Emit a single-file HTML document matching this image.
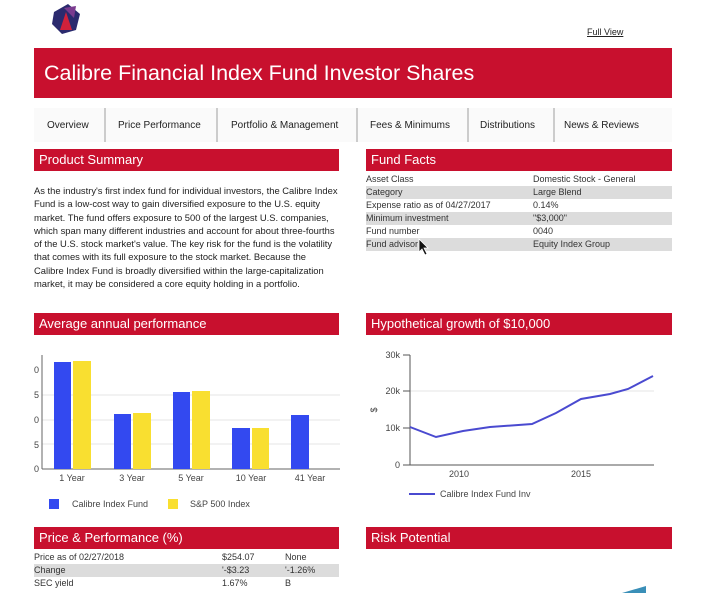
<!DOCTYPE html><html><head><style>
body{margin:0;width:707px;height:593px;overflow:hidden;background:#fff;font-family:"Liberation Sans",sans-serif;position:relative}
.a{position:absolute}
.red{background:#c8102e;color:#fff}
.h{position:absolute;height:22px;line-height:22px;font-size:13px;padding-left:5px;box-sizing:border-box}
.row{position:absolute;font-size:9px;height:13px;line-height:13px;color:#333}
.g{background:#dcdcdc}
.nav span{position:absolute;top:12px;font-size:10px;color:#222}
.sep{position:absolute;top:0;width:2px;height:34px;background:#ccc}
</style></head><body>
<svg class="a" style="left:50px;top:2px" width="32" height="34" viewBox="0 0 32 34"><polygon points="4,10 18,2 30,12 26,28 12,32 2,22" fill="#2b2a6e"/><polygon points="10,28 16,10 22,28" fill="#d0213b"/><polygon points="14,6 26,4 24,16" fill="#7a3b8f"/></svg>
<div class="a" style="left:587px;top:27px;font-size:9px;text-decoration:underline;color:#222">Full View</div>
<div class="a red" style="left:34px;top:48px;width:638px;height:50px;font-size:21.5px;line-height:50px;padding-left:10px;box-sizing:border-box">Calibre Financial Index Fund Investor Shares</div>
<div class="a nav" style="left:34px;top:108px;width:638px;height:34px;background:#fafafa">
<span style="left:13px">Overview</span><div class="sep" style="left:70px"></div>
<span style="left:84px">Price Performance</span><div class="sep" style="left:182px"></div>
<span style="left:197px">Portfolio &amp; Management</span><div class="sep" style="left:322px"></div>
<span style="left:336px">Fees &amp; Minimums</span><div class="sep" style="left:433px"></div>
<span style="left:446px">Distributions</span><div class="sep" style="left:519px"></div>
<span style="left:530px">News &amp; Reviews</span></div>
<div class="h red" style="left:34px;top:149px;width:305px">Product Summary</div>
<div class="h red" style="left:366px;top:149px;width:306px">Fund Facts</div>
<div class="a" style="left:34px;top:184px;width:304px;font-size:9.4px;line-height:13.3px;color:#222">As the industry's first index fund for individual investors, the Calibre Index Fund is a low-cost way to gain diversified exposure to the U.S. equity market. The fund offers exposure to 500 of the largest U.S. companies, which span many different industries and account for about three-fourths of the U.S. stock market's value. The key risk for the fund is the volatility that comes with its full exposure to the stock market. Because the Calibre Index Fund is broadly diversified within the large-capitalization market, it may be considered a core equity holding in a portfolio.</div>
<div class="row" style="left:366px;top:173px;width:306px"><span style="position:absolute;left:0">Asset Class</span><span style="position:absolute;left:167px">Domestic Stock - General</span></div>
<div class="row g" style="left:366px;top:186px;width:306px"><span style="position:absolute;left:0">Category</span><span style="position:absolute;left:167px">Large Blend</span></div>
<div class="row" style="left:366px;top:199px;width:306px"><span style="position:absolute;left:0">Expense ratio as of 04/27/2017</span><span style="position:absolute;left:167px">0.14%</span></div>
<div class="row g" style="left:366px;top:212px;width:306px"><span style="position:absolute;left:0">Minimum investment</span><span style="position:absolute;left:167px">"$3,000"</span></div>
<div class="row" style="left:366px;top:225px;width:306px"><span style="position:absolute;left:0">Fund number</span><span style="position:absolute;left:167px">0040</span></div>
<div class="row g" style="left:366px;top:238px;width:306px"><span style="position:absolute;left:0">Fund advisor</span><span style="position:absolute;left:167px">Equity Index Group</span></div>
<svg class="a" style="left:418px;top:238px" width="12" height="18"><polygon points="1,1 1,14 4,11 7,17 9,16 6,10 10,10" fill="#111" stroke="#fff" stroke-width="0.8"/></svg>
<div class="h red" style="left:34px;top:313px;width:305px">Average annual performance</div>
<div class="h red" style="left:366px;top:313px;width:306px">Hypothetical growth of $10,000</div>
<svg class="a" style="left:0;top:340px" width="360" height="180" font-family="Liberation Sans" font-size="9" fill="#444">
<g stroke="#e6e6e6"><line x1="42" y1="55" x2="340" y2="55"/><line x1="42" y1="80" x2="340" y2="80"/><line x1="42" y1="104" x2="340" y2="104"/></g>
<line x1="42" y1="15" x2="42" y2="129" stroke="#666"/><line x1="42" y1="129" x2="340" y2="129" stroke="#666"/>
<text x="34" y="33">0</text><text x="34" y="58">5</text><text x="34" y="83">0</text><text x="34" y="108">5</text><text x="34" y="132">0</text>
<g fill="#3349f0"><rect x="54" y="22" width="17" height="107"/><rect x="114" y="74" width="17" height="55"/><rect x="173" y="52" width="17" height="77"/><rect x="232" y="88" width="18" height="41"/><rect x="291" y="75" width="18" height="54"/></g>
<g fill="#f9df30"><rect x="73" y="21" width="18" height="108"/><rect x="133" y="73" width="18" height="56"/><rect x="192" y="51" width="18" height="78"/><rect x="252" y="88" width="17" height="41"/></g>
<g text-anchor="middle"><text x="72" y="141">1 Year</text><text x="132" y="141">3 Year</text><text x="191" y="141">5 Year</text><text x="251" y="141">10 Year</text><text x="310" y="141">41 Year</text></g>
<rect x="49" y="159" width="10" height="10" fill="#3349f0"/><text x="72" y="167">Calibre Index Fund</text>
<rect x="168" y="159" width="10" height="10" fill="#f9df30"/><text x="190" y="167">S&amp;P 500 Index</text>
</svg>
<svg class="a" style="left:360px;top:340px" width="330" height="180" font-family="Liberation Sans" font-size="9" fill="#444">
<line x1="50" y1="51" x2="294" y2="51" stroke="#e6e6e6"/>
<line x1="50" y1="15" x2="50" y2="125" stroke="#555"/><line x1="50" y1="125" x2="294" y2="125" stroke="#555"/>
<g stroke="#555"><line x1="43" y1="15" x2="50" y2="15"/><line x1="43" y1="51" x2="50" y2="51"/><line x1="43" y1="88" x2="50" y2="88"/><line x1="43" y1="125" x2="50" y2="125"/></g>
<g text-anchor="end"><text x="40" y="18">30k</text><text x="40" y="54">20k</text><text x="40" y="91">10k</text><text x="40" y="128">0</text></g>
<text x="17" y="70" transform="rotate(-90 17 70)" text-anchor="middle">$</text>
<text x="99" y="137" text-anchor="middle">2010</text><text x="221" y="137" text-anchor="middle">2015</text>
<polyline fill="none" stroke="#4a4ad0" stroke-width="2" points="50,87 76,97 103,91 130,87 172,84 196,73 221,59 250,54 268,49 293,36"/>
<line x1="49" y1="154" x2="75" y2="154" stroke="#4a4ad0" stroke-width="2"/><text x="80" y="157">Calibre Index Fund Inv</text>
</svg>
<div class="h red" style="left:34px;top:527px;width:305px">Price &amp; Performance (%)</div>
<div class="h red" style="left:366px;top:527px;width:306px">Risk Potential</div>
<div class="row" style="left:34px;top:551px;width:305px"><span style="position:absolute;left:0">Price as of 02/27/2018</span><span style="position:absolute;left:188px">$254.07</span><span style="position:absolute;left:251px">None</span></div>
<div class="row g" style="left:34px;top:564px;width:305px"><span style="position:absolute;left:0">Change</span><span style="position:absolute;left:188px">'-$3.23</span><span style="position:absolute;left:251px">'-1.26%</span></div>
<div class="row" style="left:34px;top:577px;width:305px"><span style="position:absolute;left:0">SEC yield</span><span style="position:absolute;left:188px">1.67%</span><span style="position:absolute;left:251px">B</span></div>
<svg class="a" style="left:620px;top:585px" width="30" height="8"><polygon points="2,8 26,1 26,8" fill="#3a8fb8"/></svg>
</body></html>
